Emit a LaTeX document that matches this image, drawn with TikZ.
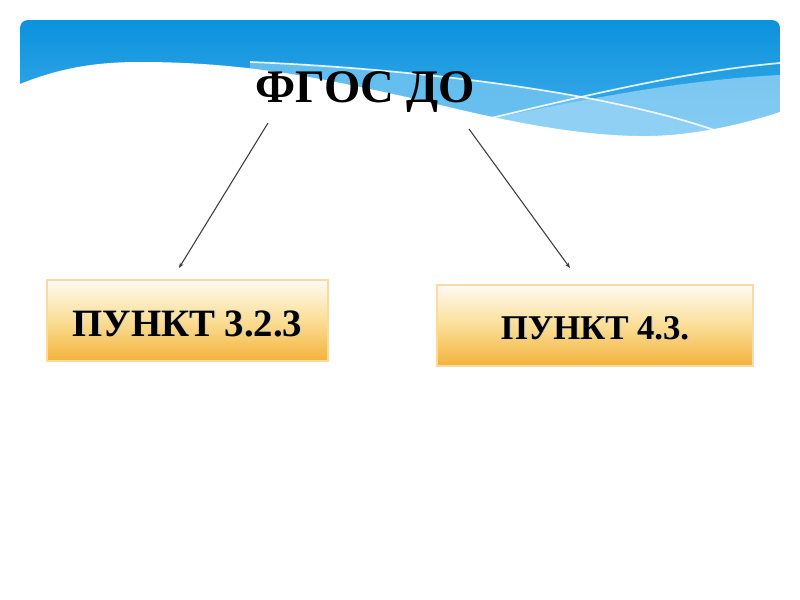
\documentclass[tikz,border=0pt]{standalone}
\usepackage{fontspec}
\setmainfont{Liberation Serif}
\usetikzlibrary{arrows.meta}
\definecolor{bannertop}{RGB}{10,146,220}
\definecolor{bannerbot}{RGB}{70,176,236}
\definecolor{bandA}{RGB}{120,200,242}
\definecolor{bandB}{RGB}{160,216,247}
\definecolor{boxtop}{RGB}{255,251,242}
\definecolor{boxmid}{RGB}{250,222,150}
\definecolor{boxbot}{RGB}{243,178,58}
\definecolor{boxedge}{RGB}{248,218,165}
\definecolor{arrowgray}{RGB}{60,60,60}
\tikzset{
  pt/.style={inner sep=0pt, outer sep=0pt},
  titletext/.style={pt, font=\fontsize{35}{35}\selectfont\bfseries},
  boxtext/.style={pt, font=\fontsize{29}{29}\selectfont\bfseries},
  connector/.style={draw=arrowgray, line width=0.8pt, -{Stealth[length=4pt,width=3pt]}},
  wline/.style={draw=white, line width=1.3pt, opacity=0.85}
}
\newcommand{\shadowtext}[1]{\textcolor{black!22}{#1}}
\begin{document}
\begin{tikzpicture}[x=0.75pt,y=-0.75pt]
\useasboundingbox (0,0) rectangle (800,600);
\fill[white] (0,0) rectangle (800,600);
% banner
\begin{scope}
\clip[rounded corners=6] (20,20) rectangle (780,220);
\shade[top color=bannertop, bottom color=bannerbot] (20,20) rectangle (780,140);
\fill[bandA, opacity=0.75] (250,62) .. controls (400,68) and (600,90) .. (717,131) -- (717,160) -- (250,160) -- cycle;
\fill[bandB, opacity=0.7] (470,123) .. controls (580,100) and (680,80) .. (780,75) -- (780,160) -- (470,160) -- cycle;
\fill[white] (20,84) .. controls (60,68) and (95,62) .. (140,62) .. controls (250,62) and (330,80) .. (420,100) .. controls (500,120) and (580,137) .. (650,136) .. controls (700,135) and (750,122) .. (780,112) -- (790,112) -- (790,230) -- (10,230) -- (10,84) -- cycle;
\draw[wline] (250,62) .. controls (400,68) and (600,90) .. (717,131);
\draw[wline] (470,123) .. controls (580,97) and (680,72) .. (780,63);
\end{scope}
% title
\node[titletext, anchor=base] (title) at (365,102) {ФГОС ДО};
% boxes
\shade[top color=boxtop, bottom color=boxbot, middle color=boxmid] (47,280) rectangle (328,361);
\draw[boxedge, line width=0.8pt] (47,280) rectangle (328,361);
\node[pt, minimum width=281*0.75pt, minimum height=81*0.75pt] (b1) at (187.5,320.5) {};
\node[boxtext, anchor=base] at ([xshift=0.7pt,yshift=-0.7pt]187.5,336) {\shadowtext{ПУНКТ 3.2.3}};
\node[boxtext, anchor=base] (t1) at (187.5,336) {ПУНКТ 3.2.3};
\shade[top color=boxtop, bottom color=boxbot, middle color=boxmid] (437,285) rectangle (753,366);
\draw[boxedge, line width=0.8pt] (437,285) rectangle (753,366);
\node[pt, minimum width=316*0.75pt, minimum height=81*0.75pt] (b2) at (595,325.5) {};
\node[boxtext, anchor=base, font=\fontsize{26}{26}\selectfont\bfseries] at ([xshift=0.7pt,yshift=-0.7pt]595,339) {\shadowtext{ПУНКТ 4.3.}};
\node[boxtext, anchor=base, font=\fontsize{26}{26}\selectfont\bfseries] (t2) at (595,339) {ПУНКТ 4.3.};
% connectors
\coordinate (s1) at (268,123);
\coordinate (e1) at (179,268);
\coordinate (s2) at (469,129);
\coordinate (e2) at (570,268);
\draw[connector] (s1) -- (e1);
\draw[connector] (s2) -- (e2);
\end{tikzpicture}
\end{document}
